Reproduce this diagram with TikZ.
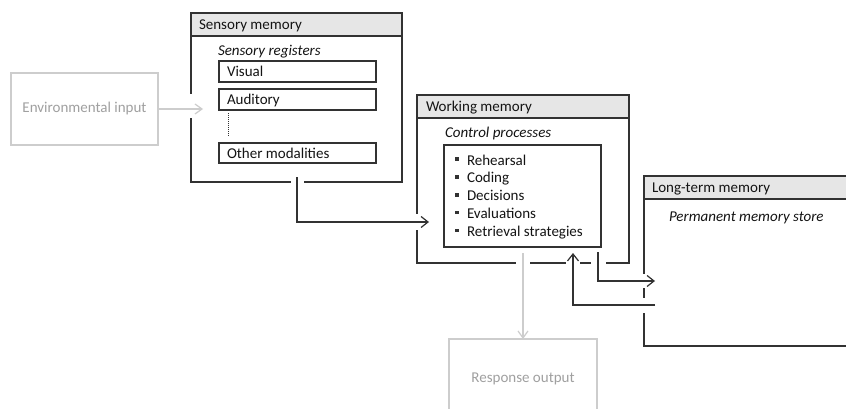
\documentclass[tikz,border=0pt]{standalone}
\usepackage{fontspec}
\setmainfont{Carlito}
\usetikzlibrary{arrows.meta,calc}
\definecolor{linec}{RGB}{50,50,50}
\definecolor{hdrfill}{RGB}{230,230,230}
\definecolor{faint}{RGB}{205,205,205}
\definecolor{fainttext}{RGB}{160,160,160}
\begin{document}
\begin{tikzpicture}[x=1pt,y=-1pt,
  every node/.style={font=\fontsize{15}{18}\selectfont, inner sep=0pt, outer sep=0pt},
  box/.style={draw=linec, line width=1.2pt, fill=white, anchor=north west},
  hdr/.style={draw=linec, line width=1.2pt, fill=hdrfill, anchor=north west, minimum height=23pt},
  reg/.style={box, minimum width=157pt, minimum height=21pt},
  txt/.style={anchor=base west, text=black!92},
  ital/.style={font=\fontsize{15}{18}\selectfont\itshape},
  arr/.style={draw=linec, line width=1.2pt, -{Straight Barb[length=7pt,width=11pt]}},
  garr/.style={draw=faint, line width=1.2pt, -{Straight Barb[length=7pt,width=10pt]}},
  brk/.style={fill=white}
]
\clip (0,0) rectangle (846,409);
\fill[white] (0,0) rectangle (846,409);

% environmental input
\node[box, draw=faint, minimum width=147pt, minimum height=72pt, text=fainttext] (env) at (11,73) {Environmental input};

% sensory memory
\node[box, minimum width=211pt, minimum height=169pt] (sm) at (191,13) {};
\node[hdr, minimum width=211pt] (smh) at (sm.north west) {};
\node[txt] (smt) at ($(smh.west)+(8,5)$) {Sensory memory};
\node[txt, ital] (smreg) at (218,56) {Sensory registers};
\node[reg] (vis) at (219,61) {};
\node[txt] (vist) at ($(vis.west)+(8,5)$) {Visual};
\node[reg] (aud) at (219,89) {};
\node[txt] (audt) at ($(aud.west)+(8,5)$) {Auditory};
\node[reg, minimum height=20pt] (oth) at (219,143) {};
\node[txt] (otht) at ($(oth.west)+(8,5)$) {Other modalities};
\draw[linec, line width=1pt, dash pattern=on 1pt off 1pt] ($(aud.south west)+(9,3)$) -- ($(oth.north west)+(9,-6)$);

% working memory
\node[box, minimum width=212pt, minimum height=168pt] (wm) at (417,95) {};
\node[hdr, minimum width=212pt] (wmh) at (wm.north west) {};
\node[txt] (wmt) at ($(wmh.west)+(9,5)$) {Working memory};
\node[txt, ital] (cp) at (445,138) {Control processes};
\node[box, minimum width=157pt, minimum height=102pt] (cpbox) at (444,145) {};
\foreach \t [count=\i] in {Rehearsal, Coding, Decisions, Evaluations, Retrieval strategies} {
  \node[txt] (item\i) at (467,{165+17.8*(\i-1)}) {\t};
  \fill[linec] ($(item\i.base west)+(-12,-4)$) rectangle +(3.5,-3.5);
}

% long-term memory
\node[box, minimum width=216pt, minimum height=170pt] (ltm) at (644,176) {};
\node[hdr, minimum width=216pt] (ltmh) at (ltm.north west) {};
\node[txt] (ltmt) at ($(ltmh.west)+(8,5)$) {Long-term memory};
\node[txt, ital] (pms) at (669,221) {Permanent memory store};

% response output
\node[box, draw=faint, minimum width=148pt, minimum height=90pt] (resp) at (449,339) {};
\node[anchor=base, text=fainttext] (respt) at (523,382) {Response output};

% connector end points
\coordinate (smout) at (297,177);
\coordinate (wmin) at (429,222);
\coordinate (envin) at (203,109);
\coordinate (wmout) at (523,253);
\coordinate (wmst) at (598,252);
\coordinate (ltmin) at (655,281);
\coordinate (ltmout) at (655,305);
\coordinate (wmret) at (573,253);

% openings in the box borders where connectors pass
\fill[brk] ($(smout|-sm.south)+(-6.5,-3)$) rectangle +(13,6);
\fill[brk] ($(sm.west|-envin)+(-3,-15)$) rectangle +(6,24);
\fill[brk] ($(wm.west|-wmin)+(-3,-8)$) rectangle +(6,16);
\fill[brk] ($(wmout|-wm.south)+(-7,-3)$) rectangle +(14,6);
\fill[brk] ($(wmret|-wm.south)+(-7,-3)$) rectangle +(14,6);
\fill[brk] ($(wmst|-wm.south)+(-7.5,-3)$) rectangle +(15,6);
\fill[brk] ($(ltm.west|-ltmin)+(-3,-7)$) rectangle +(6,14);
\fill[brk] ($(ltm.west|-ltmout)+(-3,-7.5)$) rectangle +(6,15);

% connectors
\draw[garr] (env.east) -- (envin);
\draw[arr] (smout) |- (wmin);
\draw[garr] (wmout) -- (resp.north);
\draw[arr] (wmst) |- (ltmin);
\draw[arr] (ltmout) -| (wmret);
\end{tikzpicture}
\end{document}
